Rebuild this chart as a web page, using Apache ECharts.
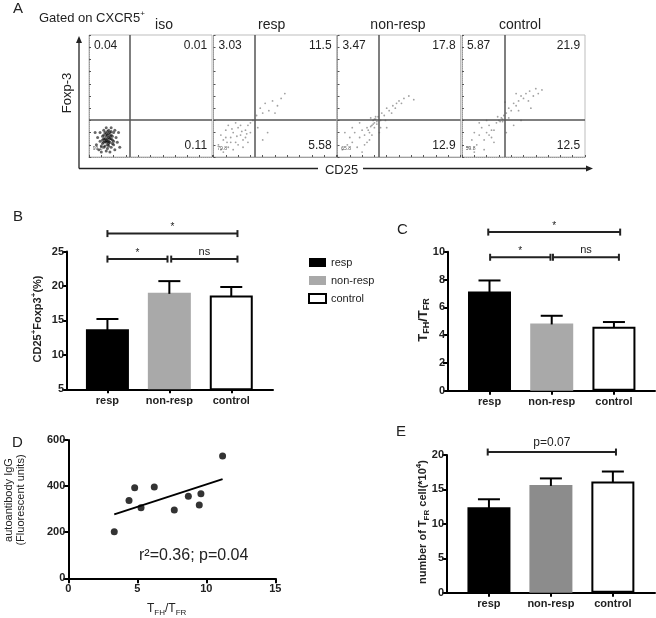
<!DOCTYPE html>
<html><head><meta charset="utf-8">
<script src="https://cdn.jsdelivr.net/npm/echarts@6/dist/echarts.min.js"></script>
<style>html,body{margin:0;padding:0;background:#fff}#c{width:656px;height:618px}</style>
</head><body><div id="c"></div>
<script>
// ---------- Panel A (flow plots) ----------
const flowNames = ['iso', 'resp', 'non-resp', 'control'];
const quadUL = ['0.04', '3.03', '3.47', '5.87'];
const quadUR = ['0.01', '11.5', '17.8', '21.9'];
const quadLR = ['0.11', '5.58', '12.9', '12.5'];
const quadLL = ['99.8', '79.8', '65.8', '59.8'];
const gateX = [33.5, 33.8, 33.2, 34.4];
const gateY = [30.7, 30.7, 30.7, 30.7];
const dotsIso = [[8,6],[10,9],[12,12],[14,14],[16,16],[18,18],[13,20],[11,17],[9,13],[15,10],[17,12],[19,14],[20,20],[14,24],[12,22],[16,22],[18,8],[20,10],[22,16],[6,10],[7,16],[10,4],[14,5],[17,4],[21,6],[23,12],[24,20],[15,18],[13,15],[17,20],[11,11],[16,13],[19,17],[12,8],[15,7],[9,20],[18,24],[21,22],[5,20],[25,8],[14,17],[16,11],[13,9],[18,15],[15,15],[12,18],[17,17],[14,12],[16,19],[19,11],[15,13],[13,13],[17,15],[14,19],[16,9],[12,15],[18,21],[11,14],[20,13],[15,21]];
const dotsResp = [[4,10],[6,18],[8,14],[10,22],[12,8],[14,16],[16,20],[18,12],[20,24],[22,18],[24,14],[26,22],[28,26],[30,20],[12,26],[8,4],[16,6],[20,10],[24,8],[28,12],[18,28],[14,12],[10,16],[22,26],[26,16],[30,28],[32,30],[6,6],[35,34],[38,40],[42,44],[45,38],[48,46],[52,42],[55,48],[40,36],[58,52],[50,36],[36,24],[40,14],[44,20],[19,17],[23,21],[15,23],[27,19],[11,12]];
const dotsNon = [[4,6],[8,10],[10,16],[12,12],[14,20],[16,8],[18,16],[20,22],[22,18],[24,24],[26,20],[28,26],[29,30],[30,28],[31,31],[32,27],[27,32],[30,24],[33,33],[35,30],[36,36],[38,34],[40,40],[42,38],[45,42],[48,44],[50,46],[54,48],[58,50],[62,47],[44,36],[39,30],[35,24],[24,12],[20,4],[18,28],[12,24],[6,20],[26,14],[34,20],[40,24],[47,40],[52,44],[22,10],[28,18],[30,31],[32,29],[29,27],[31,33],[25,22],[27,25]];
const dotsCtrl = [[5,8],[8,14],[10,20],[12,10],[14,18],[16,24],[18,14],[20,20],[22,26],[24,16],[26,22],[28,28],[30,30],[32,32],[33,29],[29,33],[34,34],[36,36],[38,40],[40,38],[42,44],[44,42],[46,46],[48,50],[50,48],[52,52],[55,54],[58,50],[60,56],[62,52],[65,55],[54,46],[46,38],[38,32],[20,30],[14,28],[10,4],[18,6],[26,12],[36,20],[42,26],[48,30],[56,40],[35,45],[44,52],[33,31],[31,29],[24,22],[22,18]];
const flowDots = [dotsIso, dotsResp, dotsNon, dotsCtrl];

// ---------- Panels B, C, E (bars, mean + SEM) ----------
const groups = ['resp', 'non-resp', 'control'];
const bMean = [13.7, 19.0, 18.6];
const bSem = [1.5, 1.7, 1.25];
const cMean = [7.13, 4.84, 4.6];
const cSem = [0.8, 0.55, 0.34];
const eMean = [12.4, 15.65, 16.15];
const eSem = [1.17, 0.95, 1.45];
// significance brackets: [from, to, height, label]
const bBrackets = [[0, 2.1, 27.6, '*'], [0, 0.97, 23.9, '*'], [1.03, 2.1, 23.9, 'ns']];
const cBrackets = [[-0.02, 2.1, 11.41, '*'], [0.01, 0.98, 9.6, '*'], [1.02, 2.08, 9.6, 'ns']];
const eBrackets = [[-0.02, 2.05, 20.43, 'p=0.07']];

// ---------- Panel D (scatter + regression) ----------
const dX = [3.33, 4.40, 4.81, 5.27, 6.23, 7.68, 8.70, 9.49, 9.61, 11.18];
const dY = [202, 337, 393, 306, 396, 296, 356, 318, 367, 531];

const FF = '"Liberation Sans", Arial, sans-serif';
const chart = echarts.init(document.getElementById('c'), null, {renderer: 'canvas'});

// regression from points
const n = dX.length;
const mx = dX.reduce((a, b) => a + b, 0) / n, my = dY.reduce((a, b) => a + b, 0) / n;
let sxy = 0, sxx = 0;
for (let i = 0; i < n; i++) { sxy += (dX[i] - mx) * (dY[i] - my); sxx += (dX[i] - mx) ** 2; }
const slope = sxy / sxx, icpt = my - slope * mx;
const xMin = Math.min(...dX), xMax = Math.max(...dX);
const regLine = [[xMin, icpt + slope * xMin], [xMax, icpt + slope * xMax]];

const grids = [
  {left: 89, top: 35, width: 123, height: 122},
  {left: 213.5, top: 35, width: 123, height: 122},
  {left: 337.5, top: 35, width: 123, height: 122},
  {left: 462, top: 35, width: 123, height: 122},
  {left: 67, top: 251.5, width: 206, height: 137.8},
  {left: 448, top: 251.7, width: 207, height: 139},
  {left: 68.3, top: 440, width: 207, height: 138.3},
  {left: 447, top: 455, width: 208, height: 137.7}
];
grids.forEach((g, i) => { if (i < 4) { g.show = true; g.borderColor = '#bdbdbd'; g.borderWidth = 1; } });

function flowAxis(i) {
  return {gridIndex: i, type: 'value', min: 0, max: 100, interval: 10,
    axisLine: {show: true, onZero: false, lineStyle: {color: '#999', type: 'dotted', width: 1}},
    axisTick: {show: true, inside: true, length: 2, lineStyle: {color: '#555'}},
    axisLabel: {show: false}, splitLine: {show: false}};
}
const boldLbl = {fontFamily: FF, fontWeight: 'bold', fontSize: 11, color: '#222'};
function barX(i, min, max) {
  return {gridIndex: i, type: 'value', min, max,
    axisLine: {show: true, onZero: false, lineStyle: {color: '#000', width: 2}},
    axisTick: {show: true, customValues: [0, 1, 2], length: 4, lineStyle: {color: '#000', width: 2}},
    axisLabel: Object.assign({customValues: [0, 1, 2], formatter: v => groups[Math.round(v)], margin: 6}, boldLbl),
    splitLine: {show: false}};
}
function valY(i, min, max, interval) {
  return {gridIndex: i, type: 'value', min, max, interval,
    axisLine: {show: true, onZero: false, lineStyle: {color: '#000', width: 2}},
    axisTick: {show: true, length: 5, lineStyle: {color: '#000', width: 2}},
    axisLabel: Object.assign({margin: 3}, boldLbl), splitLine: {show: false}};
}
const xAxes = [flowAxis(0), flowAxis(1), flowAxis(2), flowAxis(3),
  barX(4, -0.653, 2.674), barX(5, -0.667, 2.66),
  {gridIndex: 6, type: 'value', min: 0, max: 15, interval: 5,
    axisLine: {show: true, onZero: false, lineStyle: {color: '#000', width: 2}},
    axisTick: {show: true, length: 5, lineStyle: {color: '#000', width: 2}},
    axisLabel: Object.assign({margin: 5}, boldLbl), splitLine: {show: false}},
  barX(7, -0.677, 2.68)];
const yAxes = [flowAxis(0), flowAxis(1), flowAxis(2), flowAxis(3),
  valY(4, 5, 25, 5), valY(5, 0, 10, 2), valY(6, 0, 600, 200), valY(7, 0, 20, 5)];

const series = [];
// flow dots + gates + quadrant texts
flowDots.forEach((pts, k) => {
  series.push({type: 'scatter', xAxisIndex: k, yAxisIndex: k, data: pts, silent: true,
    symbolSize: k === 0 ? 3 : 1.8,
    itemStyle: {color: k === 0 ? '#000' : '#444', opacity: k === 0 ? 0.6 : 0.5},
    markLine: {silent: true, symbol: ['none', 'none'], label: {show: false},
      lineStyle: {color: '#555', width: 1.5, type: 'solid'},
      data: [{xAxis: gateX[k]}, {yAxis: gateY[k]}]}});
  series.push({type: 'custom', xAxisIndex: k, yAxisIndex: k, data: [[50, 50]], silent: true, clip: false,
    renderItem: (params, api) => {
      const t = (p, s, align, size, color) => ({type: 'text', x: p[0], y: p[1],
        style: {text: s, align, verticalAlign: 'middle', fontSize: size, fill: color || '#222', fontFamily: FF}});
      return {type: 'group', children: [
        t(api.coord([4, 91.5]), quadUL[k], 'left', 12),
        t(api.coord([96, 91.5]), quadUR[k], 'right', 12),
        t(api.coord([96, 9.5]), quadLR[k], 'right', 12),
        t(api.coord([3, 7]), quadLL[k], 'left', 5, '#555')]};
    }});
});

const colorsBC = ['#000000', '#a9a9a9', '#ffffff'];
const colorsE = ['#000000', '#8c8c8c', '#ffffff'];
function addBars(idx, mean, sem, colors, brackets) {
  groups.forEach((g, j) => {
    series.push({type: 'bar', name: g, xAxisIndex: idx, yAxisIndex: idx, barWidth: 43, barGap: '-100%',
      data: [[j, mean[j]]], silent: true,
      itemStyle: j === 2 ? {color: '#fff', borderColor: '#000', borderWidth: 2} : {color: colors[j]}});
  });
  series.push({type: 'custom', xAxisIndex: idx, yAxisIndex: idx, silent: true, clip: false, z: 5,
    data: mean.map((m, j) => [j, m, m + sem[j]]),
    renderItem: (params, api) => {
      const p0 = api.coord([api.value(0), api.value(1)]), p1 = api.coord([api.value(0), api.value(2)]);
      const st = {stroke: '#000', lineWidth: 2};
      return {type: 'group', children: [
        {type: 'line', shape: {x1: p0[0], y1: p0[1] + 1, x2: p1[0], y2: p1[1]}, style: st},
        {type: 'line', shape: {x1: p1[0] - 11, y1: p1[1], x2: p1[0] + 11, y2: p1[1]}, style: st}]};
    }});
  series.push({type: 'custom', xAxisIndex: idx, yAxisIndex: idx, silent: true, clip: false, z: 5,
    data: brackets.map(b => [b[0], b[2]]),
    renderItem: (params, api) => {
      const b = brackets[params.dataIndex];
      const p1 = api.coord([b[0], b[2]]), p2 = api.coord([b[1], b[2]]);
      const y = p1[1];
      const st = {stroke: '#222', lineWidth: 2};
      const fs = b[3] === '*' ? 10 : (b[3] === 'ns' ? 11 : 12);
      const off = b[3] === '*' ? 1 : (b[3] === 'ns' ? 2 : 3.3);
      return {type: 'group', children: [
        {type: 'line', shape: {x1: p1[0], y1: y, x2: p2[0], y2: y}, style: st},
        {type: 'line', shape: {x1: p1[0], y1: y - 3.5, x2: p1[0], y2: y + 3.5}, style: st},
        {type: 'line', shape: {x1: p2[0], y1: y - 3.5, x2: p2[0], y2: y + 3.5}, style: st},
        {type: 'text', x: (p1[0] + p2[0]) / 2, y: y - off,
          style: {text: b[3], align: 'center', verticalAlign: 'bottom', fontSize: fs, fill: '#222', fontFamily: FF}}]};
    }});
}
addBars(4, bMean, bSem, colorsBC, bBrackets);
addBars(5, cMean, cSem, colorsBC, cBrackets);
addBars(7, eMean, eSem, colorsE, eBrackets);

// Panel D
series.push({type: 'scatter', xAxisIndex: 6, yAxisIndex: 6, silent: true, symbolSize: 7,
  itemStyle: {color: '#000'}, data: dX.map((x, i) => [x, dY[i]])});
series.push({type: 'line', xAxisIndex: 6, yAxisIndex: 6, silent: true, symbol: 'none',
  lineStyle: {color: '#000', width: 2}, data: regLine});

const T = (x, y, text, size, extra) => Object.assign({type: 'text', x, y, silent: true,
  style: Object.assign({text, fontSize: size, fontFamily: FF, fill: '#222', align: 'center', verticalAlign: 'middle'}, extra || {})});
const subB = (s) => ({fontSize: s, fontWeight: 'bold', fontFamily: FF, fill: '#222', verticalAlign: 'bottom', lineHeight: 16});
const supB = (s) => ({fontSize: s, fontWeight: 'bold', fontFamily: FF, fill: '#222', verticalAlign: 'top', lineHeight: 16});

const graphic = [
  T(18, 8.5, 'A', 15), T(18, 217, 'B', 15), T(402.5, 229.5, 'C', 15), T(17.5, 442.5, 'D', 15), T(401, 431.5, 'E', 15),
  // panel A decorations
  T(39, 18, 'Gated on CXCR5{s|+}', 13, {align: 'left', lineHeight: 16,
    rich: {s: {fontSize: 8, fontFamily: FF, fill: '#222', verticalAlign: 'top', lineHeight: 16}}}),
  T(164, 25, flowNames[0], 14), T(271.7, 25, flowNames[1], 14), T(398, 25, flowNames[2], 14), T(520, 25, flowNames[3], 14),
  Object.assign(T(67.7, 93, 'Foxp-3', 13), {rotation: Math.PI / 2}),
  T(341.5, 170.5, 'CD25', 13),
  {type: 'line', silent: true, shape: {x1: 79, y1: 168.5, x2: 79, y2: 42}, style: {stroke: '#222', lineWidth: 1.3}},
  {type: 'polygon', silent: true, shape: {points: [[79, 36], [76, 43], [82, 43]]}, style: {fill: '#222'}},
  {type: 'line', silent: true, shape: {x1: 79, y1: 168.5, x2: 318, y2: 168.5}, style: {stroke: '#222', lineWidth: 1.3}},
  {type: 'line', silent: true, shape: {x1: 363, y1: 168.5, x2: 587, y2: 168.5}, style: {stroke: '#222', lineWidth: 1.3}},
  {type: 'polygon', silent: true, shape: {points: [[593, 168.5], [586, 165.5], [586, 171.5]]}, style: {fill: '#222'}},
  // axis titles
  Object.assign(T(38, 319, 'CD25{p|+}Foxp3{p|+}(%)', 11, {fontWeight: 'bold', lineHeight: 16, rich: {p: supB(8)}}), {rotation: Math.PI / 2}),
  Object.assign(T(423, 320, 'T{b|FH}/T{b|FR}', 13, {fontWeight: 'bold', lineHeight: 16, rich: {b: subB(9)}}), {rotation: Math.PI / 2}),
  Object.assign(T(15, 500, 'autoantibody IgG\n(Fluorescent units)', 11, {lineHeight: 12.5}), {rotation: Math.PI / 2}),
  T(166.7, 609, 'T{b|FH}/T{b|FR}', 12, {lineHeight: 16, rich: {b: {fontSize: 8, fontFamily: FF, fill: '#222', verticalAlign: 'bottom', lineHeight: 16}}}),
  Object.assign(T(422.5, 522, 'number of T{b|FR} cell(*10{p|4})', 11, {fontWeight: 'bold', lineHeight: 16, rich: {b: subB(8), p: supB(8)}}), {rotation: Math.PI / 2}),
  T(139, 555.7, 'r²=0.36; p=0.04', 16, {align: 'left'})
];

chart.setOption({
  animation: false,
  backgroundColor: '#fff',
  textStyle: {fontFamily: FF},
  grid: grids,
  xAxis: xAxes,
  yAxis: yAxes,
  legend: {data: groups, orient: 'vertical', left: 303, top: 252, itemWidth: 17, itemHeight: 9, itemGap: 7,
    icon: 'rect', selectedMode: false, textStyle: {fontSize: 11, color: '#222', fontFamily: FF}},
  series,
  graphic
});
</script>
</body></html>
